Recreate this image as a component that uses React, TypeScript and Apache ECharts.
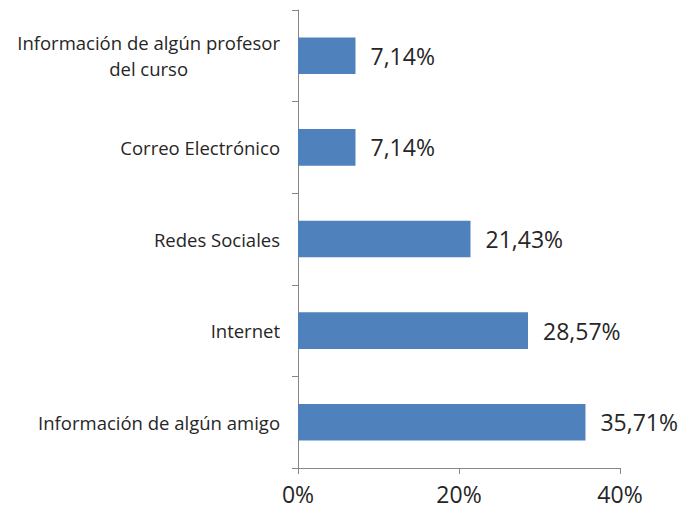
import React, { useEffect, useRef } from "react";
import * as echarts from "echarts";

const categories = [
  "Información de algún amigo",
  "Internet",
  "Redes Sociales",
  "Correo Electrónico",
  "Información de algún profesor\ndel curso",
];
const values = [35.71, 28.57, 21.43, 7.14, 7.14];
const xTicks = [0, 20, 40];

export default function App() {
  const ref = useRef<HTMLDivElement>(null);
  useEffect(() => {
    if (!ref.current) return;
    const chart = echarts.init(ref.current, null, { renderer: "svg" });
    const font = "'Open Sans', sans-serif";
    chart.setOption({
      animation: false,
      backgroundColor: "#ffffff",
      grid: { left: 298, top: 10, right: 79, bottom: 49, containLabel: false },
      xAxis: {
        type: "value",
        min: xTicks[0],
        max: xTicks[xTicks.length - 1],
        interval: 20,
        splitLine: { show: false },
        axisLine: { show: true, lineStyle: { color: "#868686", width: 1 } },
        axisTick: { show: true, length: 6, lineStyle: { color: "#868686" } },
        axisLabel: {
          formatter: (v: number) => `${v}%`,
          fontSize: 23,
          color: "#262626",
          fontFamily: font,
          margin: 14,
        },
      },
      yAxis: {
        type: "category",
        data: categories,
        axisLine: { show: true, lineStyle: { color: "#868686", width: 1 } },
        axisTick: { show: true, length: 6, lineStyle: { color: "#868686" } },
        axisLabel: {
          fontSize: 18.5,
          color: "#262626",
          fontFamily: font,
          margin: 18,
          lineHeight: 26,
          formatter: (v: string) =>
            v
              .split("\n")
              .map((l) => `{c|${l}}`)
              .join("\n"),
          rich: {
            c: {
              align: "center",
              fontSize: 18.5,
              color: "#262626",
              fontFamily: font,
              lineHeight: 26,
            },
          },
        },
      },
      series: [
        {
          type: "bar",
          data: values,
          barWidth: "40%",
          itemStyle: { color: "#4F81BD" },
          label: {
            show: true,
            position: "right",
            distance: 15,
            fontSize: 23,
            color: "#262626",
            fontFamily: font,
            formatter: (p: any) => `${p.value.toFixed(2).replace(".", ",")}%`,
          },
        },
      ],
    });
    return () => chart.dispose();
  }, []);
  return <div ref={ref} style={{ width: 699, height: 517, margin: -8 }} />;
}
